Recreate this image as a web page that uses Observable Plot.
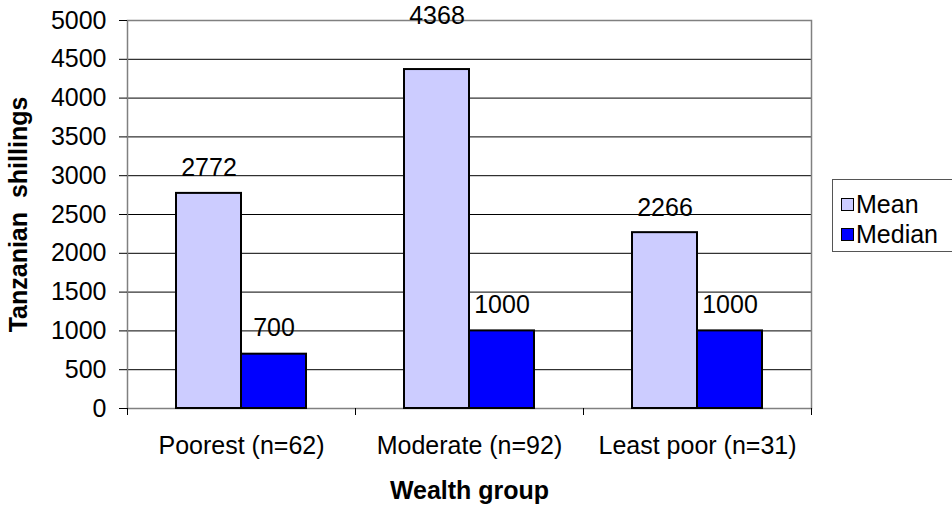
<!DOCTYPE html>
<html><head><meta charset="utf-8">
<script src="https://cdn.jsdelivr.net/npm/d3@7"></script>
<script src="https://cdn.jsdelivr.net/npm/@observablehq/plot@0.6"></script>
<style>
body{margin:0;background:#fff;font-family:"Liberation Sans",Arial,sans-serif;}
#wrap{position:relative;width:952px;height:506px;overflow:hidden;}
#legend{position:absolute;left:832px;top:179px;width:124px;height:73px;border:1px solid #555;box-sizing:border-box;font-size:25px;font-family:"Liberation Sans",Arial,sans-serif;color:#000;}
.item{position:absolute;left:8px;display:flex;align-items:center;height:26px;white-space:nowrap;}
.sw{width:11px;height:11px;border:1.5px solid #000;margin-right:2px;flex:none;}
</style></head><body><div id="wrap"></div>
<script>
const groups = ["Poorest (n=62)", "Moderate (n=92)", "Least poor (n=31)"];
const seriesNames = ["Mean", "Median"];
const meanValues = [2772, 4368, 2266];
const medianValues = [700, 1000, 1000];
const yTicks = [0, 500, 1000, 1500, 2000, 2500, 3000, 3500, 4000, 4500, 5000];
const seriesColors = ["#CCCCFF", "#0000FF"];
const yTitle = "Tanzanian\u00a0 shillings";
const xTitle = "Wealth group";

const meanData = groups.map((g, i) => ({group: g, value: meanValues[i]}));
const medianData = groups.map((g, i) => ({group: g, value: medianValues[i]}));

const boundaryTicks = (index, scales, values, dims) => {
  const x = scales.x;
  const step = x(groups[1]) - x(groups[0]);
  const off = Math.abs(x(groups[0]) - dims.marginLeft) < 1 ? 0 : -step / 2;
  const edges = groups.map(g => x(g) + off).concat([x(groups[groups.length - 1]) + off + step]);
  const y0 = dims.height - dims.marginBottom;
  const g = d3.create("svg:g");
  g.selectAll("line").data(edges).join("line")
    .attr("x1", d => Math.round(d) + 0.5).attr("x2", d => Math.round(d) + 0.5)
    .attr("y1", y0).attr("y2", y0 + 7)
    .attr("stroke", "#000");
  return g.node();
};

const FS = 25;
const high = d => d.value > 4000;
const chart = Plot.plot({
  width: 952, height: 506,
  marginLeft: 127, marginRight: 141, marginTop: 20, marginBottom: 98,
  style: {fontFamily: '"Liberation Sans", Arial, sans-serif', fontSize: FS + "px", background: "white", color: "black"},
  x: {domain: groups, padding: 0, label: null},
  y: {domain: [0, 5000], label: null},
  marks: [
    Plot.ruleY(yTicks.filter(v => v > 0 && v < 5000), {stroke: "#000", strokeWidth: 1}),
    Plot.frame({stroke: "#808080", strokeWidth: 1.5}),
    Plot.barY(meanData, {x: "group", y: "value", fill: seriesColors[0], stroke: "#000", strokeWidth: 2, insetLeft: 49, insetRight: 114}),
    Plot.barY(medianData, {x: "group", y: "value", fill: seriesColors[1], stroke: "#000", strokeWidth: 2, insetLeft: 114, insetRight: 49}),
    Plot.text(meanData, {filter: d => !high(d), x: "group", y: "value", text: d => String(d.value), dx: -32.5, dy: -17, lineAnchor: "bottom", fontSize: FS, fill: "#000"}),
    Plot.text(meanData, {filter: high, x: "group", y: "value", text: d => String(d.value), dx: -32.5, dy: -46, lineAnchor: "bottom", fontSize: FS, fill: "#000"}),
    Plot.text(medianData, {x: "group", y: "value", text: d => String(d.value), dx: 32.5, dy: -18, lineAnchor: "bottom", fontSize: FS, fill: "#000"}),
    Plot.axisY({ticks: yTicks, tickFormat: "d", tickSize: 8, tickPadding: 13, fontSize: FS, label: null}),
    Plot.axisX({tickSize: 0, tickPadding: 28, fontSize: FS, label: null}),
    boundaryTicks,
    Plot.text([yTitle], {frameAnchor: "left", textAnchor: "middle", lineAnchor: "middle", rotate: -90, dx: -109, fontWeight: "bold", fontSize: FS, fill: "#000"}),
    Plot.text([xTitle], {frameAnchor: "bottom", textAnchor: "middle", lineAnchor: "middle", dy: 82, fontWeight: "bold", fontSize: FS, fill: "#000"})
  ]
});
const wrap = document.getElementById("wrap");
wrap.appendChild(chart);

const legend = document.createElement("div");
legend.id = "legend";
seriesNames.forEach((name, i) => {
  const it = document.createElement("div");
  it.className = "item";
  it.style.top = (11 + i * 30) + "px";
  const sw = document.createElement("span");
  sw.className = "sw";
  sw.style.background = seriesColors[i];
  const t = document.createElement("span");
  t.textContent = name;
  it.appendChild(sw); it.appendChild(t);
  legend.appendChild(it);
});
wrap.appendChild(legend);
</script>
</body></html>
